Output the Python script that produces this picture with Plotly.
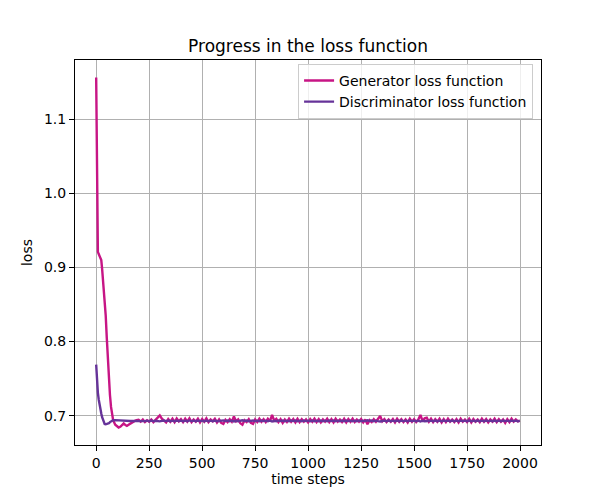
import plotly.graph_objects as go

# ---- data ----
early_steps = [0, 2, 4, 6, 8, 12, 16, 20, 24, 28, 32, 36, 40, 45, 50, 55, 60, 65, 70, 75,
               80, 90, 100, 106, 115, 122, 130, 138, 145, 153, 161, 170, 180, 190]
gen_early = [1.156, 1.08, 1.00, 0.94, 0.921, 0.918, 0.916, 0.914, 0.910, 0.898, 0.885, 0.872,
             0.858, 0.835, 0.805, 0.775, 0.750, 0.728, 0.712, 0.700, 0.694, 0.688, 0.6848,
             0.6842, 0.6855, 0.688, 0.6896, 0.6875, 0.6865, 0.6878, 0.6896, 0.691, 0.6928, 0.694]
disc_early = [0.769, 0.752, 0.742, 0.735, 0.731, 0.722, 0.714, 0.708, 0.703, 0.698, 0.694,
              0.6905, 0.689, 0.6885, 0.6888, 0.689, 0.690, 0.6915, 0.6925, 0.6935, 0.694,
              0.6942, 0.694, 0.6936, 0.6933, 0.693, 0.6927, 0.6925, 0.6926, 0.6928, 0.693,
              0.6931, 0.693, 0.6931]

late_steps = list(range(200, 2000, 10)) + [1999]
gen_late = [
    0.6945, 0.6920, 0.6950, 0.6915, 0.6940, 0.6920, 0.6950, 0.6915, 0.6945, 0.6985,
    0.7005, 0.6960, 0.6935, 0.6910, 0.6955, 0.6920, 0.6960, 0.6915, 0.6965, 0.6925,
    0.6955, 0.6915, 0.6960, 0.6920, 0.6965, 0.6915, 0.6950, 0.6920, 0.6960, 0.6910,
    0.6955, 0.6920, 0.6965, 0.6915, 0.6950, 0.6925, 0.6960, 0.6910, 0.6950, 0.6905,
    0.6890, 0.6945, 0.6915, 0.6955, 0.6920, 0.6990, 0.6925, 0.6950, 0.6900, 0.6880,
    0.6940, 0.6915, 0.6955, 0.6905, 0.6890, 0.6950, 0.6915, 0.6960, 0.6920, 0.6955,
    0.6915, 0.6960, 0.6925, 0.7012, 0.6935, 0.6960, 0.6915, 0.6955, 0.6905, 0.6950,
    0.6915, 0.6960, 0.6920, 0.6955, 0.6910, 0.6960, 0.6915, 0.6955, 0.6920, 0.6950,
    0.6910, 0.6955, 0.6920, 0.6960, 0.6915, 0.6955, 0.6910, 0.6950, 0.6920, 0.6960,
    0.6915, 0.6955, 0.6910, 0.6960, 0.6920, 0.6950, 0.6915, 0.6960, 0.6910, 0.6955,
    0.6920, 0.6960, 0.6915, 0.6950, 0.6920, 0.6955, 0.6910, 0.6950, 0.6885, 0.6940,
    0.6915, 0.6955, 0.6920, 0.6960, 0.6998, 0.6925, 0.6955, 0.6915, 0.6950, 0.6920,
    0.6955, 0.6910, 0.6960, 0.6920, 0.6955, 0.6915, 0.6950, 0.6910, 0.6960, 0.6920,
    0.6955, 0.6915, 0.6950, 0.7012, 0.6930, 0.6965, 0.6975, 0.6920, 0.6960, 0.6915,
    0.6955, 0.6920, 0.6960, 0.6910, 0.6955, 0.6915, 0.6960, 0.6920, 0.6950, 0.6915,
    0.6955, 0.6910, 0.6960, 0.6920, 0.6950, 0.6915, 0.6960, 0.6910, 0.6955, 0.6920,
    0.6950, 0.6915, 0.6960, 0.6920, 0.6955, 0.6910, 0.6950, 0.6920, 0.6960, 0.6915,
    0.6955, 0.6920, 0.6950, 0.6905, 0.6955, 0.6915, 0.6960, 0.6920, 0.6950, 0.6925,
    0.6935,
]
disc_late = [
    0.6932, 0.6926, 0.6935, 0.6928, 0.6934, 0.6927, 0.6935, 0.6928, 0.6933, 0.6926,
    0.6925, 0.6932, 0.6936, 0.6928, 0.6935, 0.6927, 0.6934, 0.6926, 0.6935, 0.6928,
    0.6935, 0.6927, 0.6934, 0.6926, 0.6937, 0.6928, 0.6934, 0.6927, 0.6935, 0.6928,
    0.6934, 0.6926, 0.6935, 0.6927, 0.6934, 0.6926, 0.6935, 0.6927, 0.6934, 0.6936,
    0.6938, 0.6929, 0.6935, 0.6927, 0.6934, 0.6924, 0.6933, 0.6927, 0.6937, 0.6939,
    0.6930, 0.6935, 0.6927, 0.6936, 0.6937, 0.6928, 0.6934, 0.6926, 0.6935, 0.6928,
    0.6934, 0.6927, 0.6934, 0.6922, 0.6932, 0.6926, 0.6935, 0.6928, 0.6936, 0.6927,
    0.6934, 0.6927, 0.6935, 0.6928, 0.6935, 0.6927, 0.6934, 0.6927, 0.6935, 0.6928,
    0.6934, 0.6926, 0.6935, 0.6927, 0.6934, 0.6926, 0.6935, 0.6927, 0.6934, 0.6927,
    0.6935, 0.6928, 0.6936, 0.6927, 0.6934, 0.6926, 0.6935, 0.6927, 0.6935, 0.6928,
    0.6934, 0.6927, 0.6934, 0.6927, 0.6935, 0.6926, 0.6934, 0.6928, 0.6938, 0.6930,
    0.6935, 0.6927, 0.6934, 0.6928, 0.6923, 0.6929, 0.6934, 0.6927, 0.6935, 0.6927,
    0.6934, 0.6927, 0.6935, 0.6927, 0.6935, 0.6928, 0.6934, 0.6927, 0.6936, 0.6928,
    0.6934, 0.6927, 0.6934, 0.6922, 0.6933, 0.6927, 0.6932, 0.6927, 0.6934, 0.6927,
    0.6935, 0.6927, 0.6934, 0.6927, 0.6935, 0.6928, 0.6934, 0.6927, 0.6935, 0.6927,
    0.6934, 0.6927, 0.6935, 0.6928, 0.6934, 0.6927, 0.6935, 0.6927, 0.6934, 0.6927,
    0.6935, 0.6927, 0.6934, 0.6927, 0.6935, 0.6928, 0.6934, 0.6927, 0.6935, 0.6927,
    0.6934, 0.6927, 0.6936, 0.6928, 0.6934, 0.6927, 0.6935, 0.6928, 0.6934, 0.6927,
    0.6931,
]

steps = early_steps + late_steps
gen_loss = gen_early + gen_late
disc_loss = disc_early + disc_late

x_ticks = [0, 250, 500, 750, 1000, 1250, 1500, 1750, 2000]
y_ticks = [0.7, 0.8, 0.9, 1.0, 1.1]
y_tick_labels = ["0.7", "0.8", "0.9", "1.0", "1.1"]

GEN_COLOR = "#C71585"
DISC_COLOR = "#663399"
FONT = "DejaVu Sans, sans-serif"

fig = go.Figure()
fig.add_trace(go.Scatter(x=steps, y=gen_loss, mode="lines",
                         line=dict(color=GEN_COLOR, width=2.4),
                         name="Generator loss function"))
fig.add_trace(go.Scatter(x=steps, y=disc_loss, mode="lines",
                         line=dict(color=DISC_COLOR, width=2.4),
                         name="Discriminator loss function"))

xmin, xmax = min(steps), max(steps)
ymin = min(min(gen_loss), min(disc_loss))
ymax = max(max(gen_loss), max(disc_loss))
xpad = 0.05 * (xmax - xmin)
ypad = 0.05 * (ymax - ymin)

axis_common = dict(
    showgrid=True, gridcolor="#b0b0b0", gridwidth=1,
    showline=True, linecolor="black", linewidth=1, mirror=True,
    ticks="outside", ticklen=5, tickwidth=1, tickcolor="black",
    zeroline=False,
    tickfont=dict(family=FONT, size=14, color="black"),
)

# page body has an 8px default margin, so the figure is 592x492
W, H = 592, 492
fig.update_layout(
    width=W, height=H,
    paper_bgcolor="white", plot_bgcolor="white",
    margin=dict(l=67, r=59, t=52, b=55),
    font=dict(family=FONT, size=14, color="black"),
    title=dict(text="Progress in the loss function", x=0.5, xref="paper",
               xanchor="center", y=1 - 38 / H, yanchor="middle",
               font=dict(family=FONT, size=17, color="black")),
    xaxis=dict(range=[xmin - xpad, xmax + xpad], tickvals=x_ticks,
               title=dict(text="time steps", font=dict(family=FONT, size=14), standoff=4),
               **axis_common),
    yaxis=dict(range=[ymin - ypad, ymax + ypad], tickvals=y_ticks, ticktext=y_tick_labels,
               title=dict(text="loss", font=dict(family=FONT, size=14), standoff=8),
               **axis_common),
    legend=dict(x=0.983, y=0.99, xanchor="right", yanchor="top",
                bgcolor="rgba(255,255,255,0.8)", bordercolor="#cccccc", borderwidth=1,
                font=dict(family=FONT, size=14, color="black"),
                itemwidth=30, tracegroupgap=0),
    showlegend=True,
)

fig.write_html("out.html")
